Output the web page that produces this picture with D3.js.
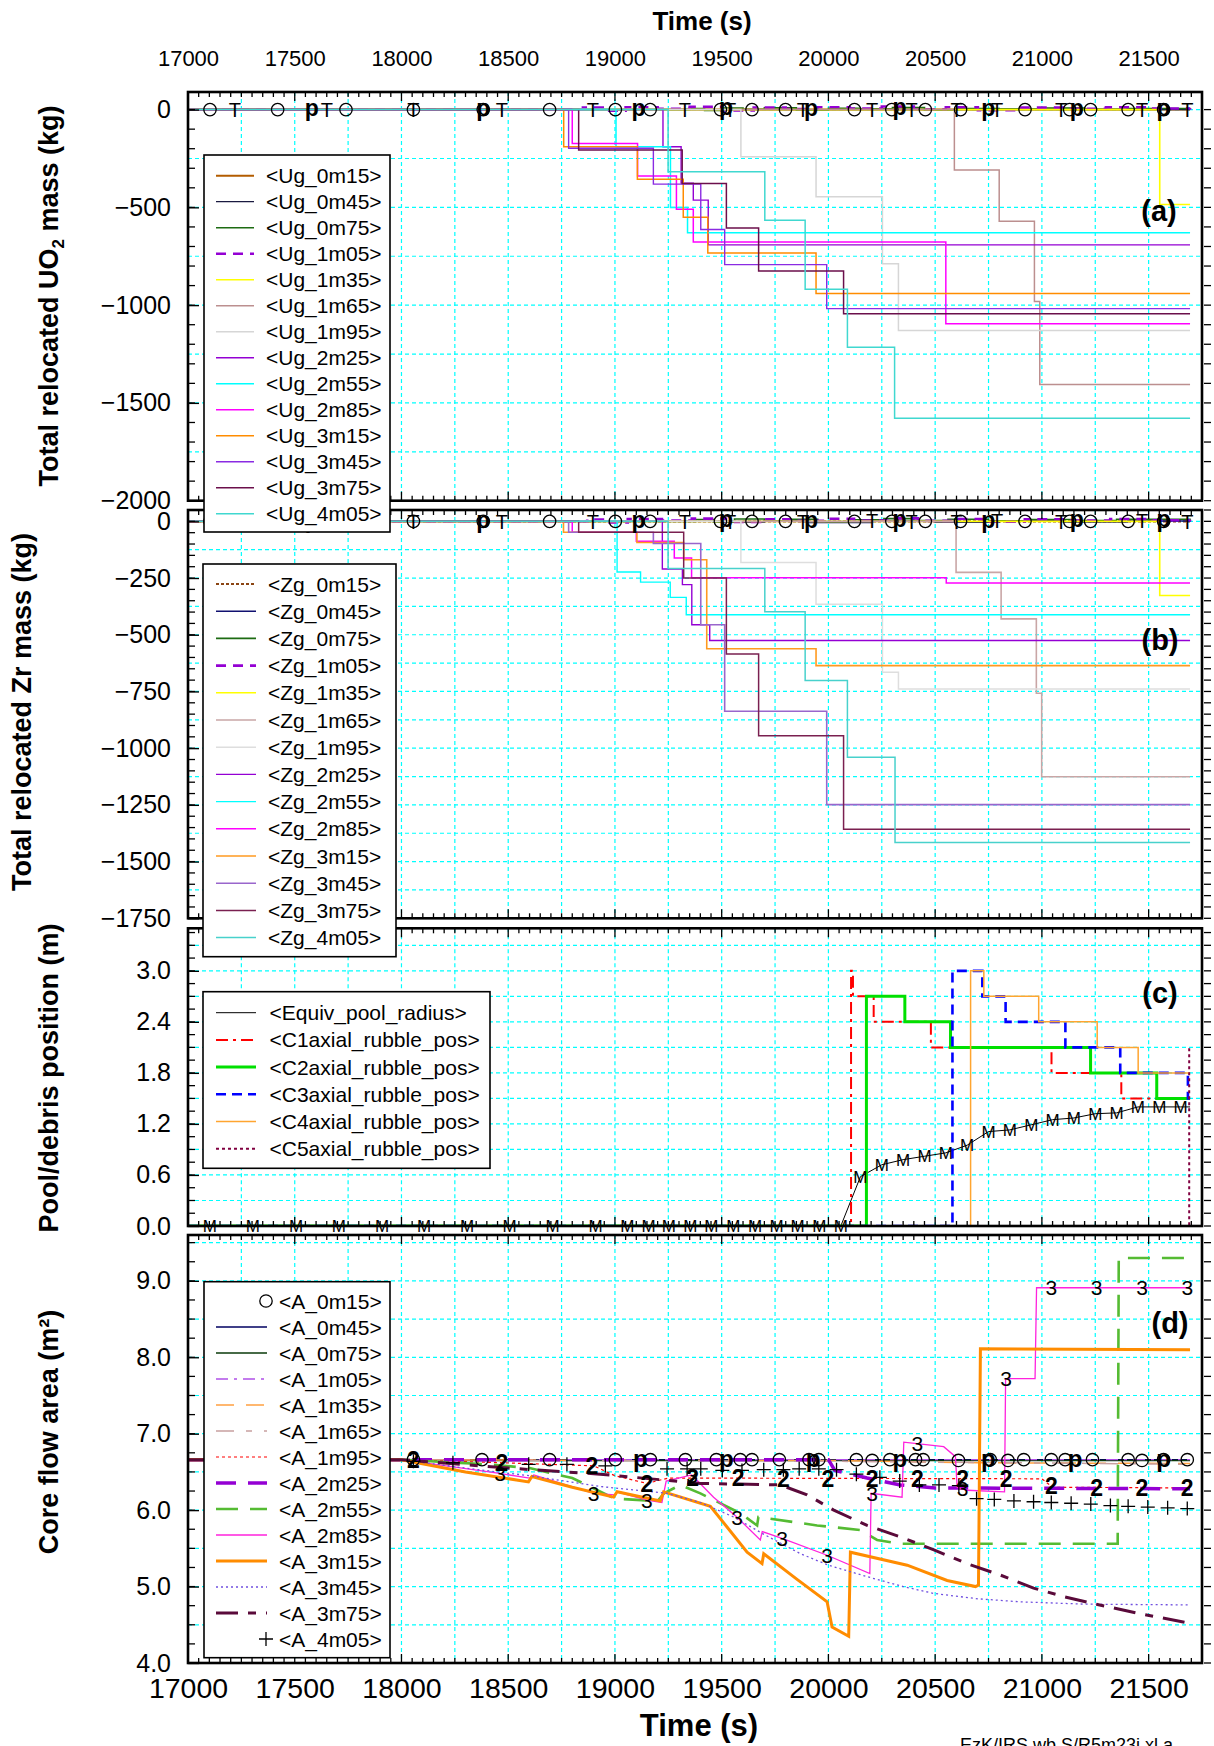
<!DOCTYPE html>
<html><head><meta charset="utf-8">
<script src="https://cdnjs.cloudflare.com/ajax/libs/d3/7.8.5/d3.min.js"></script>
<style>
body{margin:0;background:#fff}
svg{display:block}
text{font-family:"Liberation Sans",Arial,Helvetica,sans-serif;fill:#000}
</style>
</head><body>
<svg id="chart" width="1214" height="1746"></svg>
<script>
// ---------- time axis ----------
const timeTicks = [17000,17500,18000,18500,19000,19500,20000,20500,21000,21500];

// ---------- (a) relocated UO2 mass, kg (step series [t, value]) ----------
const ugNames = ["<Ug_0m15>","<Ug_0m45>","<Ug_0m75>","<Ug_1m05>","<Ug_1m35>","<Ug_1m65>","<Ug_1m95>",
                 "<Ug_2m25>","<Ug_2m55>","<Ug_2m85>","<Ug_3m15>","<Ug_3m45>","<Ug_3m75>","<Ug_4m05>"];
const ug0m15 = [[17000,0],[21694,0]];
const ug0m45 = [[17000,0],[21694,0]];
const ug0m75 = [[17000,0],[19300,0],[19350,6],[19420,-4],[19500,8],[19600,2],[19700,9],[19850,-3],[20000,7],[20150,4],[20300,10],[20450,-2],[20600,6],[20800,3],[21000,8],[21200,2],[21400,6],[21694,3]];
const ug1m05 = [[17000,0],[18800,0],[18850,10],[18950,-6],[19050,12],[19200,4],[19350,14],[19500,-4],[19650,10],[19800,3],[19950,12],[20100,5],[20250,16],[20400,2],[20550,12],[20700,-3],[20900,10],[21100,4],[21300,12],[21500,6],[21694,8]];
const ug1m35 = [[17000,0],[21552,-485],[21694,-485]];
const ug1m65 = [[17000,0],[20590,-309],[20800,-571],[20965,-981],[20990,-1406],[21694,-1406]];
const ug1m95 = [[17000,0],[19590,-241],[19942,-446],[20253,-788],[20328,-1129],[21694,-1129]];
const ug2m25 = [[17000,0],[19225,-190],[19310,-376],[19367,-463],[19437,-692],[21694,-692]];
const ug2m55 = [[17000,0],[19005,-190],[19260,-500],[19340,-630],[21694,-630]];
const ug2m85 = [[17000,0],[18800,-173],[19106,-339],[19288,-509],[19367,-677],[20550,-1095],[21694,-1095]];
const ug3m15 = [[17000,0],[18760,-190],[19105,-356],[19320,-550],[19435,-733],[19942,-941],[21694,-941]];
const ug3m45 = [[17000,0],[18783,-198],[19180,-381],[19402,-613],[19514,-793],[19992,-1018],[21694,-1018]];
const ug3m75 = [[17000,0],[18830,-207],[19315,-378],[19522,-605],[19673,-825],[20071,-1044],[21694,-1044]];
const ug4m05 = [[17000,0],[19249,-318],[19702,-566],[19891,-919],[20089,-1215],[20310,-1578],[21694,-1578]];
const ugTicks = [0,-500,-1000,-1500,-2000];

// ---------- (b) relocated Zr mass, kg ----------
const zgNames = ["<Zg_0m15>","<Zg_0m45>","<Zg_0m75>","<Zg_1m05>","<Zg_1m35>","<Zg_1m65>","<Zg_1m95>",
                 "<Zg_2m25>","<Zg_2m55>","<Zg_2m85>","<Zg_3m15>","<Zg_3m45>","<Zg_3m75>","<Zg_4m05>"];
const zg0m15 = [[17000,0],[21694,0]];
const zg0m45 = [[17000,0],[19400,0],[19500,-4],[19700,3],[19900,-5],[20200,2],[20500,-4],[20800,3],[21100,-3],[21400,2],[21694,-2]];
const zg0m75 = [[17000,0],[19300,0],[19380,8],[19460,-3],[19560,10],[19700,2],[19820,9],[19950,-2],[20100,7],[20260,12],[20400,3],[20560,9],[20750,2],[20950,8],[21150,3],[21350,9],[21694,4]];
const zg1m05 = [[17000,0],[18800,0],[18870,8],[18960,-5],[19060,10],[19220,3],[19360,12],[19520,-3],[19680,9],[19820,2],[19980,11],[20120,4],[20280,13],[20420,2],[20580,10],[20720,-2],[20920,9],[21120,3],[21320,10],[21520,5],[21694,7]];
const zg1m35 = [[17000,0],[21552,-327],[21694,-327]];
const zg1m65 = [[17000,0],[20598,-225],[20809,-430],[20974,-758],[20999,-1126],[21694,-1126]];
const zg1m95 = [[17000,0],[19590,-181],[19942,-365],[20253,-665],[20328,-739],[21694,-739]];
const zg2m25 = [[17000,0],[19222,-210],[19316,-279],[19360,-456],[19444,-525],[21694,-525]];
const zg2m55 = [[17000,0],[19010,-223],[19120,-268],[19259,-335],[19334,-412],[21694,-412]];
const zg2m85 = [[17000,0],[18800,-48],[19100,-88],[19278,-162],[19359,-249],[20552,-272],[21694,-272]];
const zg3m15 = [[17000,0],[18759,-48],[19103,-93],[19322,-169],[19430,-562],[19942,-636],[21694,-636]];
const zg3m45 = [[17000,0],[18783,-48],[19180,-98],[19402,-456],[19514,-837],[19992,-1249],[21694,-1249]];
const zg3m75 = [[17000,0],[18830,-48],[19322,-250],[19522,-585],[19673,-945],[20071,-1357],[21694,-1357]];
const zg4m05 = [[17000,0],[19249,-208],[19702,-399],[19891,-702],[20089,-1040],[20312,-1416],[21694,-1416]];
const zgTicks = [0,-250,-500,-750,-1000,-1250,-1500,-1750];

// glyph markers riding on the zero lines of (a) and (b)
const markOTimes = [17103,17420,17740,18056,18383,18694,19002,19165,19494,19642,19799,20122,20297,20454,20619,20921,21130,21228,21404,21570];
const markTTimes = [17220,17650,18056,18470,18897,19327,19540,19880,20205,20390,20600,20790,21090,21469,21681];
const markPTimes = [17580,18383,19110,19520,19919,20333,20749,21164,21570];

// ---------- (c) pool radius / rubble position, m ----------
const poolNames = ["<Equiv_pool_radius>","<C1axial_rubble_pos>","<C2axial_rubble_pos>","<C3axial_rubble_pos>","<C4axial_rubble_pos>","<C5axial_rubble_pos>"];
const equivPool = [[17000,0],[17102,0],[17304,0],[17506,0],[17707,0],[17909,0],[18106,0],[18307,0],[18506,0],[18708,0],[18909,0],
  [19058,0],[19157,0],[19253,0],[19353,0],[19452,0],[19555,0],[19657,0],[19757,0],[19856,0],[19958,0],[20058,0],
  [20150,0.58],[20250,0.72],[20350,0.78],[20450,0.82],[20550,0.86],[20650,0.95],[20750,1.11],[20850,1.13],[20950,1.19],
  [21050,1.25],[21150,1.27],[21250,1.32],[21350,1.33],[21450,1.40],[21550,1.40],[21650,1.40],[21694,1.40]];
const c1Rubble = [[17000,0],[20106,3.0],[20115,2.7],[20212,2.4],[20480,2.1],[21045,1.8],[21372,1.5],[21694,1.5]];
const c2Rubble = [[17000,0],[20178,2.7],[20358,2.4],[20572,2.1],[21228,1.8],[21538,1.5],[21694,1.5]];
const c3Rubble = [[17000,0],[20581,3.0],[20721,2.7],[20830,2.4],[21110,2.1],[21367,1.8],[21684,1.5],[21694,1.5]];
const c4Rubble = [[17000,0],[20666,3.0],[20728,2.7],[20985,2.4],[21259,2.1],[21451,1.8],[21694,1.8]];
const c5Rubble = [[17000,0],[21690,2.1],[21694,2.1]];
const poolTicks = [0,0.6,1.2,1.8,2.4,3.0];

// ---------- (d) core flow area, m2 ----------
const areaNames = ["<A_0m15>","<A_0m45>","<A_0m75>","<A_1m05>","<A_1m35>","<A_1m65>","<A_1m95>",
                   "<A_2m25>","<A_2m55>","<A_2m85>","<A_3m15>","<A_3m45>","<A_3m75>","<A_4m05>"];
const a0m15 = [[18056,6.66],[18377,6.66],[18694,6.66],[19002,6.66],[19166,6.66],[19330,6.66],[19475,6.66],[19587,6.66],[19642,6.66],
  [19770,6.66],[19909,6.66],[19955,6.66],[20131,6.66],[20205,6.65],[20288,6.66],[20408,6.66],[20444,6.66],[20609,6.65],[20758,6.66],
  [20841,6.65],[20915,6.66],[21044,6.66],[21109,6.66],[21237,6.66],[21404,6.66],[21469,6.65],[21570,6.66],[21681,6.66]];
const a0m45 = [[17000,6.66],[21694,6.66]];
const a0m75 = [[17000,6.65],[21694,6.65]];
const a1m05 = [[17000,6.66],[21694,6.66]];
const a1m35 = [[17000,6.66],[20000,6.65],[20700,6.62],[21694,6.61]];
const a1m65 = [[17000,6.66],[20000,6.64],[21694,6.60]];
const a1m95 = [[17000,6.66],[18000,6.66],[18470,6.62],[18900,6.58],[19000,6.45],[19150,6.35],[19250,6.42],[21000,6.41],[21050,6.30],[21694,6.29]];
const a2m25 = [[17000,6.66],[20000,6.66],[20030,6.52],[20181,6.42],[20337,6.33],[20500,6.29],[21694,6.28]];
const a2m55 = [[17000,6.66],[18000,6.66],[18400,6.60],[18600,6.55],[18800,6.42],[19000,6.15],[19200,6.12],[19230,6.22],[19306,6.33],
  [19400,6.22],[19587,5.96],[19666,5.80],[19672,5.91],[19947,5.80],[20150,5.74],[20228,5.61],[20337,5.56],[21355,5.56],[21360,9.30],[21694,9.30]];
const a2m85 = [[17000,6.66],[18000,6.66],[18460,6.48],[18600,6.42],[18620,6.46],[18900,6.22],[19000,6.20],[19010,6.24],[19150,6.13],
  [19220,6.10],[19240,6.38],[19360,6.46],[19462,6.17],[19571,5.91],[19681,5.61],[19690,5.72],[19783,5.63],[19994,5.41],[20194,5.17],
  [20200,6.22],[20345,6.17],[20353,6.89],[20540,6.83],[20595,6.70],[20603,6.30],[20650,6.26],[20825,6.24],[20830,7.72],[20968,7.72],
  [20975,8.91],[21694,8.91]];
const a3m15 = [[17000,6.66],[18000,6.66],[18300,6.50],[18595,6.37],[18611,6.44],[18800,6.30],[18994,6.17],[19010,6.24],[19212,6.12],
  [19228,6.24],[19447,6.05],[19525,5.78],[19619,5.45],[19689,5.30],[19697,5.43],[19850,5.10],[19994,4.80],[20017,4.47],[20095,4.35],
  [20103,5.45],[20369,5.28],[20556,5.08],[20689,5.00],[20703,5.02],[20712,8.11],[21694,8.10]];
const a3m45 = [[17000,6.66],[18000,6.66],[18300,6.55],[18600,6.45],[18931,6.31],[19244,6.22],[19400,6.10],[19556,5.91],[19700,5.68],
  [19869,5.43],[20000,5.28],[20181,5.13],[20350,5.00],[20494,4.91],[20700,4.84],[20900,4.80],[21200,4.77],[21694,4.76]];
const a3m75 = [[17000,6.66],[18000,6.66],[18500,6.55],[18931,6.47],[19400,6.35],[19775,6.33],[19900,6.20],[20025,6.00],[20181,5.80],
  [20337,5.65],[20494,5.48],[20650,5.30],[20806,5.15],[20961,4.98],[21100,4.87],[21237,4.78],[21450,4.65],[21694,4.52]];
const a4m05 = [[18056,6.64],[18241,6.62],[18596,6.60],[18775,6.60],[18955,6.58],[19244,6.54],[19338,6.54],[19402,6.54],[19503,6.52],
  [19595,6.52],[19697,6.53],[19789,6.53],[19863,6.54],[19955,6.54],[20038,6.53],[20131,6.47],[20241,6.43],[20334,6.38],[20426,6.33],
  [20518,6.33],[20611,6.32],[20694,6.15],[20777,6.14],[20869,6.12],[20961,6.11],[21044,6.10],[21137,6.09],[21229,6.08],[21321,6.06],
  [21404,6.05],[21496,6.04],[21589,6.03],[21681,6.02]];
const areaTicks = [4,5,6,7,8,9];
// glyph marker times on (d) curves
const mark2Times = [18056,18470,18892,19150,19364,19577,19789,19998,20205,20417,20629,20832,21044,21256,21469,21681];
const mark3Times = [18462,18900,19150,19361,19572,19783,19994,20205,20417,20629,20832,21044,21256,21469,21681];
const markPAreaTimes = [19119,19522,19928,20334,20749,21155,21570];

// ---------- drawing ----------
const svg = d3.select("#chart");
const x = d3.scaleLinear().domain([17000, 21750]).range([188, 1202]);
const X0 = 188, X1 = 1202;
const minusFmt = d => d < 0 ? "\u2212" + Math.abs(d) : String(d);

function sty(c, w, dash, linear) { return {c, w, dash, linear}; }
const ugStyles = [sty("#b35c00",2),sty("#1a1a40",1.2),sty("#1d6b12",1.6),sty("#9400d3",2.6,"10,7"),sty("#ffff00",1.6),
  sty("#bc8f8f",1.5),sty("#d6d6d6",1.5),sty("#9400d3",1.4),sty("#00ffff",1.5),sty("#ff00ff",1.5),sty("#ff8c00",1.5),
  sty("#8a2be2",1.4),sty("#6b0f4b",1.5),sty("#40d8d0",1.5)];
const zgStyles = [sty("#8b4513",2.2,"3,2"),sty("#101070",1.5),sty("#1d6b12",1.6),sty("#9400d3",2.6,"10,7"),sty("#ffff00",1.6),
  sty("#c9a6a6",1.6),sty("#dedede",1.5),sty("#9400d3",1.4),sty("#00ffff",1.4),sty("#ff00ff",1.5),sty("#ff9a20",1.6),
  sty("#9966cc",1.6),sty("#7a2050",1.5),sty("#48d1cc",1.5)];
const poolStyles = [sty("#000",1,null,true),sty("#ff0000",2,"12,5,3,5"),sty("#00e000",3),sty("#0000ff",2.6,"10,6"),sty("#ffa530",1.5),sty("#800040",2,"3,3")];
const areaStyles = [null,sty("#000060",1.5),sty("#0a3a0a",1.5),sty("#b050e8",1.3,"12,6,3,6"),sty("#ffa040",1.5,"18,12"),
  sty("#c8a0a0",1.5,"18,12,6,12"),sty("#ff0000",1.2,"3,3"),sty("#9400d3",3.5,"20,12"),sty("#55bb33",2.6,"22,12"),
  sty("#ff22dd",1.3),sty("#ff8c00",3),sty("#7050e0",1.3,"2,3"),sty("#5a0a3a",3,"22,10,8,10"),null];

const panels = [
  {id:"a", top:92, bottom:500.7, dom:[-2000,90], grid:250, minor:100, ticks:ugTicks, fmt:minusFmt,
   data:[ug0m15,ug0m45,ug0m75,ug1m05,ug1m35,ug1m65,ug1m95,ug2m25,ug2m55,ug2m85,ug3m15,ug3m45,ug3m75,ug4m05], styles:ugStyles, step:true},
  {id:"b", top:510, bottom:918.3, dom:[-1750,50], grid:125, minor:50, ticks:zgTicks, fmt:minusFmt,
   data:[zg0m15,zg0m45,zg0m75,zg1m05,zg1m35,zg1m65,zg1m95,zg2m25,zg2m55,zg2m85,zg3m15,zg3m45,zg3m75,zg4m05], styles:zgStyles, step:true},
  {id:"c", top:928.3, bottom:1226, dom:[0,3.5], grid:0.3, minor:0.15, ticks:poolTicks, fmt:d3.format(".1f"),
   data:[equivPool,c1Rubble,c2Rubble,c3Rubble,c4Rubble,c5Rubble], styles:poolStyles, step:true},
  {id:"d", top:1235, bottom:1663, dom:[4,9.6], grid:0.5, minor:0.25, ticks:areaTicks, fmt:d3.format(".1f"),
   data:[a0m15,a0m45,a0m75,a1m05,a1m35,a1m65,a1m95,a2m25,a2m55,a2m85,a3m15,a3m45,a3m75,a4m05], styles:areaStyles, step:false}
];

const defs = svg.append("defs");
const gPanels = svg.append("g");
const gMarks = svg.append("g");
const gLegends = svg.append("g");

function rangeStep(a, b, s) { const out = []; const n = Math.round((b - a) / s); for (let i = 0; i <= n; i++) out.push(+(a + i * s).toFixed(6)); return out; }
function interp(series, t) {
  const bis = d3.bisector(d => d[0]).left;
  let i = bis(series, t);
  if (i <= 0) return series[0][1];
  if (i >= series.length) return series[series.length - 1][1];
  const p0 = series[i - 1], p1 = series[i];
  return p0[1] + (p1[1] - p0[1]) * (t - p0[0]) / (p1[0] - p0[0]);
}
function applyStyle(sel, s) {
  sel.attr("fill", "none").attr("stroke", s.c).attr("stroke-width", s.w);
  if (s.dash) sel.attr("stroke-dasharray", s.dash);
  return sel;
}
function circleMark(g, cx, cy, r) {
  g.append("circle").attr("cx", cx).attr("cy", cy).attr("r", r).attr("fill", "none").attr("stroke", "#000").attr("stroke-width", 1.3);
}
function plusMark(g, cx, cy) {
  g.append("path").attr("d", `M${cx-7},${cy}H${cx+7}M${cx},${cy-7}V${cy+7}`).attr("stroke", "#000").attr("stroke-width", 1.3);
}

panels.forEach(p => {
  const y = d3.scaleLinear().domain(p.dom).range([p.bottom, p.top]);
  p.y = y;
  const g = gPanels.append("g");
  defs.append("clipPath").attr("id", "clip-" + p.id)
    .append("rect").attr("x", X0).attr("y", p.top).attr("width", X1 - X0).attr("height", p.bottom - p.top);

  // grid
  const grid = g.append("g").attr("stroke", "#00ffff").attr("stroke-width", 1.2).attr("stroke-dasharray", "4,3");
  rangeStep(17250, 21500, 250).forEach(t => grid.append("line").attr("x1", x(t)).attr("x2", x(t)).attr("y1", p.top).attr("y2", p.bottom));
  const gy = rangeStep(p.dom[0], p.dom[1], p.grid).filter(v => y(v) < p.bottom - 3 && y(v) > p.top + 3);
  gy.forEach(v => grid.append("line").attr("x1", X0).attr("x2", X1).attr("y1", y(v)).attr("y2", y(v)));

  // series
  const stepLine = d3.line().x(d => x(d[0])).y(d => y(d[1])).curve(p.step ? d3.curveStepAfter : d3.curveLinear);
  const straightLine = d3.line().x(d => x(d[0])).y(d => y(d[1]));
  const lg = g.append("g").attr("clip-path", `url(#clip-${p.id})`);
  p.data.forEach((ser, i) => {
    const s = p.styles[i];
    if (!s) return;
    applyStyle(lg.append("path").attr("d", (s.linear ? straightLine : stepLine)(ser)), s);
  });

  // ticks
  const tk = g.append("g").attr("stroke", "#000").attr("stroke-width", 1.3);
  rangeStep(17000, 21750, 50).forEach(t => {
    const len = (t % 500 === 0) ? 9 : 5;
    tk.append("line").attr("x1", x(t)).attr("x2", x(t)).attr("y1", p.top).attr("y2", p.top + len);
    tk.append("line").attr("x1", x(t)).attr("x2", x(t)).attr("y1", p.bottom).attr("y2", p.bottom - len);
  });
  rangeStep(p.dom[0], p.dom[1], p.minor).forEach(v => {
    const yy = y(v);
    if (yy > p.bottom + 0.5 || yy < p.top - 0.5) return;
    tk.append("line").attr("x1", X0).attr("x2", X0 + 7).attr("y1", yy).attr("y2", yy);
    tk.append("line").attr("x1", X1 + 2).attr("x2", X1 + 9).attr("y1", yy).attr("y2", yy);
  });

  // left axis labels
  const ax = g.append("g").attr("transform", `translate(${X0},0)`)
    .call(d3.axisLeft(y).tickValues(p.ticks).tickFormat(p.fmt).tickSize(-11).tickPadding(17));
  ax.select(".domain").remove();
  ax.selectAll(".tick line").attr("stroke", "#000").attr("stroke-width", 1.3);
  ax.selectAll(".tick text").attr("font-size", 25).attr("font-family", "Liberation Sans, Arial, sans-serif").attr("fill", "#000");

  // frame
  g.append("rect").attr("x", X0).attr("y", p.top).attr("width", X1 - X0).attr("height", p.bottom - p.top)
    .attr("fill", "none").attr("stroke", "#000").attr("stroke-width", 2.6);

  // glyph markers (drawn above the frame, not clipped)
  const mg = gMarks.append("g");
  if (p.id === "a" || p.id === "b") {
    markOTimes.forEach(t => circleMark(mg, x(t), y(interp(p.data[0], t)), 6.2));
    markTTimes.forEach(t => mg.append("text").attr("x", x(t)).attr("y", y(interp(p.data[1], t))).attr("dy", "0.36em")
      .attr("text-anchor", "middle").attr("font-size", 20).text("T"));
    markPTimes.forEach(t => mg.append("text").attr("x", x(t)).attr("y", y(interp(p.data[2], t))).attr("dy", "0.3em")
      .attr("text-anchor", "middle").attr("font-size", 23).attr("font-weight", "bold").text("p"));
  }
  if (p.id === "c") {
    equivPool.slice(1, -1).forEach(d => mg.append("text").attr("x", x(d[0])).attr("y", y(d[1])).attr("dy", "0.36em")
      .attr("text-anchor", "middle").attr("font-size", 17).text("M"));
  }
  if (p.id === "d") {
    a0m15.forEach(d => circleMark(mg, x(d[0]), y(d[1]), 6.2));
    a4m05.forEach(d => plusMark(mg, x(d[0]), y(d[1])));
    markPAreaTimes.forEach(t => mg.append("text").attr("x", x(t)).attr("y", y(interp(a0m45, t))).attr("dy", "0.3em")
      .attr("text-anchor", "middle").attr("font-size", 24).attr("font-weight", "bold").text("p"));
    mark2Times.forEach(t => mg.append("text").attr("x", x(t)).attr("y", y(interp(a1m95, t))).attr("dy", "0.36em")
      .attr("text-anchor", "middle").attr("font-size", 23).attr("font-weight", "bold").attr("fill", "#ff0000").text("2"));
    mark3Times.forEach(t => mg.append("text").attr("x", x(t)).attr("y", y(interp(a2m85, t))).attr("dy", "0.36em")
      .attr("text-anchor", "middle").attr("font-size", 21).attr("fill", "#ff22dd").text("3"));
  }
});

// top and bottom time axes
const topAx = svg.append("g").attr("transform", `translate(0,${panels[0].top})`)
  .call(d3.axisTop(x).tickValues(timeTicks).tickFormat(d3.format("d")).tickSize(0).tickPadding(26));
topAx.select(".domain").remove();
topAx.selectAll("text").attr("font-size", 22).attr("font-family", "Liberation Sans, Arial, sans-serif").attr("fill", "#000");
const botAx = svg.append("g").attr("transform", `translate(0,${panels[3].bottom})`)
  .call(d3.axisBottom(x).tickValues(timeTicks).tickFormat(d3.format("d")).tickSize(0).tickPadding(15));
botAx.select(".domain").remove();
botAx.selectAll("text").attr("font-size", 28.5).attr("font-family", "Liberation Sans, Arial, sans-serif").attr("fill", "#000");

// titles
svg.append("text").attr("x", 702).attr("y", 30).attr("text-anchor", "middle").attr("font-size", 26).attr("font-weight", "bold").text("Time (s)");
svg.append("text").attr("x", 699).attr("y", 1736).attr("text-anchor", "middle").attr("font-size", 31).attr("font-weight", "bold").text("Time (s)");

function yTitle(cx, cy, build) {
  const t = svg.append("text").attr("transform", `translate(${cx},${cy}) rotate(-90)`).attr("text-anchor", "middle")
    .attr("font-size", 27).attr("font-weight", "bold");
  build(t);
}
yTitle(58, 296, t => { t.append("tspan").text("Total relocated UO");
  t.append("tspan").attr("font-size", 17).attr("dy", 6).text("2");
  t.append("tspan").attr("dy", -6).text(" mass (kg)"); });
yTitle(31, 712, t => t.text("Total relocated Zr mass (kg)"));
yTitle(58, 1078, t => t.text("Pool/debris position (m)"));
yTitle(58, 1432, t => t.text("Core flow area (m\u00b2)"));

// panel tags
[["(a)",1159,221],["(b)",1160,650],["(c)",1160,1003],["(d)",1170,1333]].forEach(([s, cx, by]) =>
  svg.append("text").attr("x", cx).attr("y", by).attr("text-anchor", "middle").attr("font-size", 29).attr("font-weight", "bold").text(s));

// legends
function legend(box, rows0, dy, s0, s1, tx, names, styles, markers) {
  const g = gLegends.append("g");
  g.append("rect").attr("x", box[0]).attr("y", box[1]).attr("width", box[2] - box[0]).attr("height", box[3] - box[1])
    .attr("fill", "#fff").attr("stroke", "#000").attr("stroke-width", 1.6);
  names.forEach((n, i) => {
    const yy = rows0 + i * dy;
    const s = styles[i];
    if (s) applyStyle(g.append("line").attr("x1", s0).attr("x2", s1).attr("y1", yy).attr("y2", yy), s);
    if (markers && markers[i] === "O") circleMark(g, s1 - 1, yy, 6.2);
    if (markers && markers[i] === "+") plusMark(g, s1 - 1, yy);
    g.append("text").attr("x", tx).attr("y", yy).attr("dy", "0.36em").attr("font-size", 21).text(n);
  });
}
legend([204,155,390,532], 175.7, 26, 216, 254, 266, ugNames, ugStyles);
legend([203,564,396,956.7], 584, 27.2, 216, 256, 268, zgNames, zgStyles);
legend([203,991.7,490,1168.3], 1012.7, 27.2, 216, 256, 269.5, poolNames, poolStyles);
const areaMarkers = areaNames.map((n, i) => i === 0 ? "O" : (i === areaNames.length - 1 ? "+" : null));
legend([204,1281.7,390,1657.7], 1301, 26, 216, 267, 279, areaNames, areaStyles, areaMarkers);

// file tag, bottom right
svg.append("text").attr("x", 960).attr("y", 1751).attr("font-size", 18).text("EzK/IRS.wb.S/R5m23j.xl.a");
</script>
</body></html>
